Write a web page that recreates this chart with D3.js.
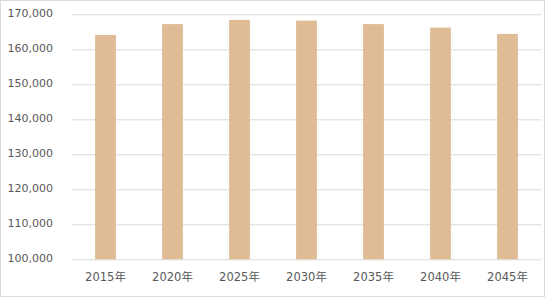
<!DOCTYPE html>
<html><head><meta charset="utf-8">
<script src="https://cdn.jsdelivr.net/npm/d3@7"></script>
<style>body{margin:0;background:#fff}svg{display:block}</style>
</head><body>
<script>
const categories = ["2015年","2020年","2025年","2030年","2035年","2040年","2045年"];
const values = [164100, 167200, 168400, 168200, 167200, 166200, 164400];
const yTicks = [100000,110000,120000,130000,140000,150000,160000,170000];

const W = 550, H = 298;
const m = {left:72, right:9, top:14.3, bottom:38.7};
const svg = d3.select("body").append("svg").attr("width",W).attr("height",H);
svg.append("rect").attr("x",0.5).attr("y",0.5).attr("width",544).attr("height",296)
  .attr("fill","#fff").attr("stroke","#D9D9D9");

const x = d3.scaleBand().domain(categories).range([m.left, W-m.right]).paddingInner(0.69).paddingOuter(0.345);
const y = d3.scaleLinear().domain([100000,170000]).range([H-m.bottom, m.top]);

const fmt = d3.format(",");
const font = "'DejaVu Sans','Noto Sans CJK JP',sans-serif";

const yAxis = svg.append("g").attr("transform",`translate(${m.left},0)`)
  .call(d3.axisLeft(y).tickValues(yTicks).tickFormat(fmt).tickSize(-(W-m.right-m.left)).tickPadding(19));
yAxis.select(".domain").remove();
yAxis.selectAll(".tick line").attr("stroke","#D9D9D9");
yAxis.selectAll(".tick text").attr("fill","#595959").attr("dy","0.2em").style("font-family",font).style("font-size","11px");

svg.append("g").selectAll("rect").data(values).join("rect")
  .attr("x",(d,i)=>x(categories[i])).attr("width",x.bandwidth())
  .attr("y",d=>y(d)).attr("height",d=>y(100000)-y(d))
  .attr("fill","#DFBC96");

const xAxis = svg.append("g").attr("transform",`translate(0,${H-m.bottom})`)
  .call(d3.axisBottom(x).tickSize(0).tickPadding(14));
xAxis.select(".domain").remove();
xAxis.selectAll(".tick text").attr("fill","#595959").style("font-family",font).style("font-size","11.5px");
</script>
</body></html>
